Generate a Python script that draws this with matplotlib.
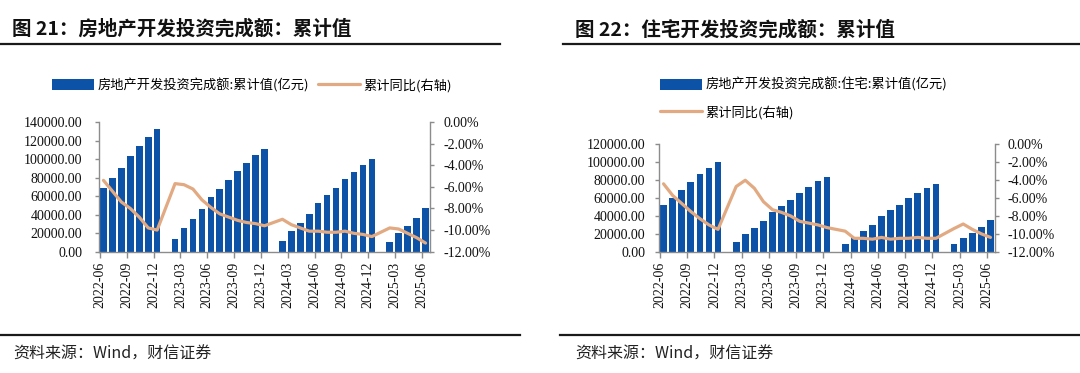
import matplotlib
matplotlib.use('Agg')
import matplotlib.pyplot as plt
from matplotlib.lines import Line2D
import numpy as np

plt.rcParams['font.family'] = ['Noto Sans CJK SC', 'DejaVu Sans']

nan = np.nan
months = ["2022-06", "2022-07", "2022-08", "2022-09", "2022-10", "2022-11", "2022-12",
          "2023-01", "2023-02", "2023-03", "2023-04", "2023-05", "2023-06", "2023-07",
          "2023-08", "2023-09", "2023-10", "2023-11", "2023-12",
          "2024-01", "2024-02", "2024-03", "2024-04", "2024-05", "2024-06", "2024-07",
          "2024-08", "2024-09", "2024-10", "2024-11", "2024-12",
          "2025-01", "2025-02", "2025-03", "2025-04", "2025-05", "2025-06"]

# 房地产开发投资完成额 累计值 (亿元) and 累计同比 (%)
inv = [68314, 79462, 90809, 103559, 113945, 123863, 132895,
       nan, 13669, 25974, 35514, 45701, 58550, 67717, 76900, 87269, 95922, 104045, 110913,
       nan, 11842, 22082, 30928, 40632, 52529, 60877, 69284, 78680, 86309, 93362, 100280,
       nan, 10720, 19904, 27730, 36234, 46658]
inv_yoy = [-5.4, -6.4, -7.4, -8.0, -8.8, -9.8, -10.0,
           nan, -5.7, -5.8, -6.2, -7.2, -7.9, -8.5, -8.8, -9.1, -9.3, -9.4, -9.6,
           nan, -9.0, -9.5, -9.8, -10.1, -10.1, -10.2, -10.2, -10.1, -10.3, -10.4, -10.6,
           nan, -9.8, -9.9, -10.3, -10.7, -11.2]

# 住宅 累计值 (亿元) and 累计同比 (%)
res = [51804, 60298, 68878, 78556, 86484, 94095, 100646,
       nan, 10329, 19767, 27072, 34848, 44439, 51306, 58139, 65958, 72522, 78664, 83820,
       nan, 8823, 16663, 23176, 30196, 39883, 46258, 52624, 59753, 65702, 71183, 76040,
       nan, 8060, 14836, 21400, 28000, 35000]
res_yoy = [-4.4, -5.7, -6.6, -7.5, -8.3, -9.0, -9.5,
           nan, -4.7, -4.0, -4.9, -6.4, -7.3, -7.6, -8.0, -8.6, -8.8, -9.0, -9.3,
           nan, -9.7, -10.5, -10.5, -10.6, -10.4, -10.6, -10.5, -10.5, -10.4, -10.5, -10.5,
           nan, -9.4, -8.9, -9.5, -10.0, -10.4]

BAR = "#0C52A6"
LINE = "#E2AA82"
AXC = "#8C8C8C"
W, H = 1080, 373
SERIF = "Liberation Serif"

fig = plt.figure(figsize=(W / 100, H / 100), dpi=100)


def panel(rect, vals, yoy, ymax, lpad, rpad):
    ax = fig.add_axes(rect)
    x = np.arange(len(months))
    v = np.array(vals, dtype=float)
    y = np.array(yoy, dtype=float)
    bars = ax.bar(x, v, width=0.74, color=BAR, zorder=2)
    ax.set_xlim(-0.5, len(months) - 0.5)
    ax.set_ylim(0, ymax)
    ax.set_yticks(np.arange(0, ymax + 1, 20000))
    ax.set_yticklabels([f"{t:.2f}" for t in np.arange(0, ymax + 1, 20000)],
                       family=SERIF, fontsize=10)
    tk = x[::3]
    ax.set_xticks(tk - 0.4)
    ax.set_xticklabels([months[i] for i in tk], rotation=90, family=SERIF, fontsize=10)

    ax2 = ax.twinx()
    ok = ~np.isnan(y)
    ln, = ax2.plot(x[ok], y[ok], color=LINE, lw=2.3, solid_capstyle='round', zorder=3)
    ax2.set_ylim(-12, 0)
    ax2.set_yticks(np.arange(-12, 0.1, 2))
    ax2.set_yticklabels([f"{t:.2f}%" for t in np.arange(-12, 0.1, 2)],
                        family=SERIF, fontsize=10)

    for a in (ax, ax2):
        a.spines['top'].set_visible(False)
        for s in ('left', 'right', 'bottom'):
            a.spines[s].set_color(AXC)
            a.spines[s].set_linewidth(1.0)
        a.tick_params(colors=AXC, labelcolor='#111111', length=3, width=1.0)
    ax.spines['right'].set_visible(False)
    ax2.spines['left'].set_visible(False)
    ax2.spines['bottom'].set_visible(False)
    ax.tick_params(axis='y', pad=lpad)
    ax.tick_params(axis='x', pad=3, length=4)
    ax2.tick_params(axis='y', pad=rpad)
    return bars, ln


def fy(py):
    return 1 - py / H


# left panel
b1, l1 = panel([99 / W, fy(251.7), 331 / W, 129.7 / H], inv, inv_yoy, 140000, 9, 7)
# right panel
b2, l2 = panel([659 / W, fy(251.7), 336 / W, 107.2 / H], res, res_yoy, 120000, 7, 6)

fig.legend([b1, l1], ["房地产开发投资完成额:累计值(亿元)", "累计同比(右轴)"],
           loc='center', bbox_to_anchor=(252 / W, fy(85)), ncol=2, columnspacing=0.7,
           frameon=False, handlelength=3.2, handleheight=0.9, handletextpad=0.25,
           borderpad=0, prop={'size': 9.5})
fig.legend([b2, l2], ["房地产开发投资完成额:住宅:累计值(亿元)", "累计同比(右轴)"],
           loc='center left', bbox_to_anchor=(660 / W, fy(98.5)), ncol=1,
           labelspacing=1.05, frameon=False, handlelength=3.2, handleheight=0.9,
           handletextpad=0.25, borderpad=0, borderaxespad=0, prop={'size': 9.5})

# titles, rules, sources
fig.text(12 / W, fy(28.5), "图 21：房地产开发投资完成额：累计值", fontsize=14,
         fontweight='bold', va='center', ha='left', color='#111111')
fig.text(575 / W, fy(29.5), "图 22：住宅开发投资完成额：累计值", fontsize=14,
         fontweight='bold', va='center', ha='left', color='#111111')
for x0, x1, yy in [(0, 500, 44), (563, 1080, 44), (0, 520, 335), (560, 1080, 335)]:
    fig.add_artist(Line2D([x0 / W, x1 / W], [fy(yy), fy(yy)], transform=fig.transFigure,
                          color='#1a1a1a', lw=1.6))
fig.text(13 / W, fy(354), "资料来源：Wind，财信证券", fontsize=11.5, style='italic',
         va='center', ha='left', color='#222222')
fig.text(575 / W, fy(354), "资料来源：Wind，财信证券", fontsize=11.5, style='italic',
         va='center', ha='left', color='#222222')

fig.savefig("out.png", dpi=100)
